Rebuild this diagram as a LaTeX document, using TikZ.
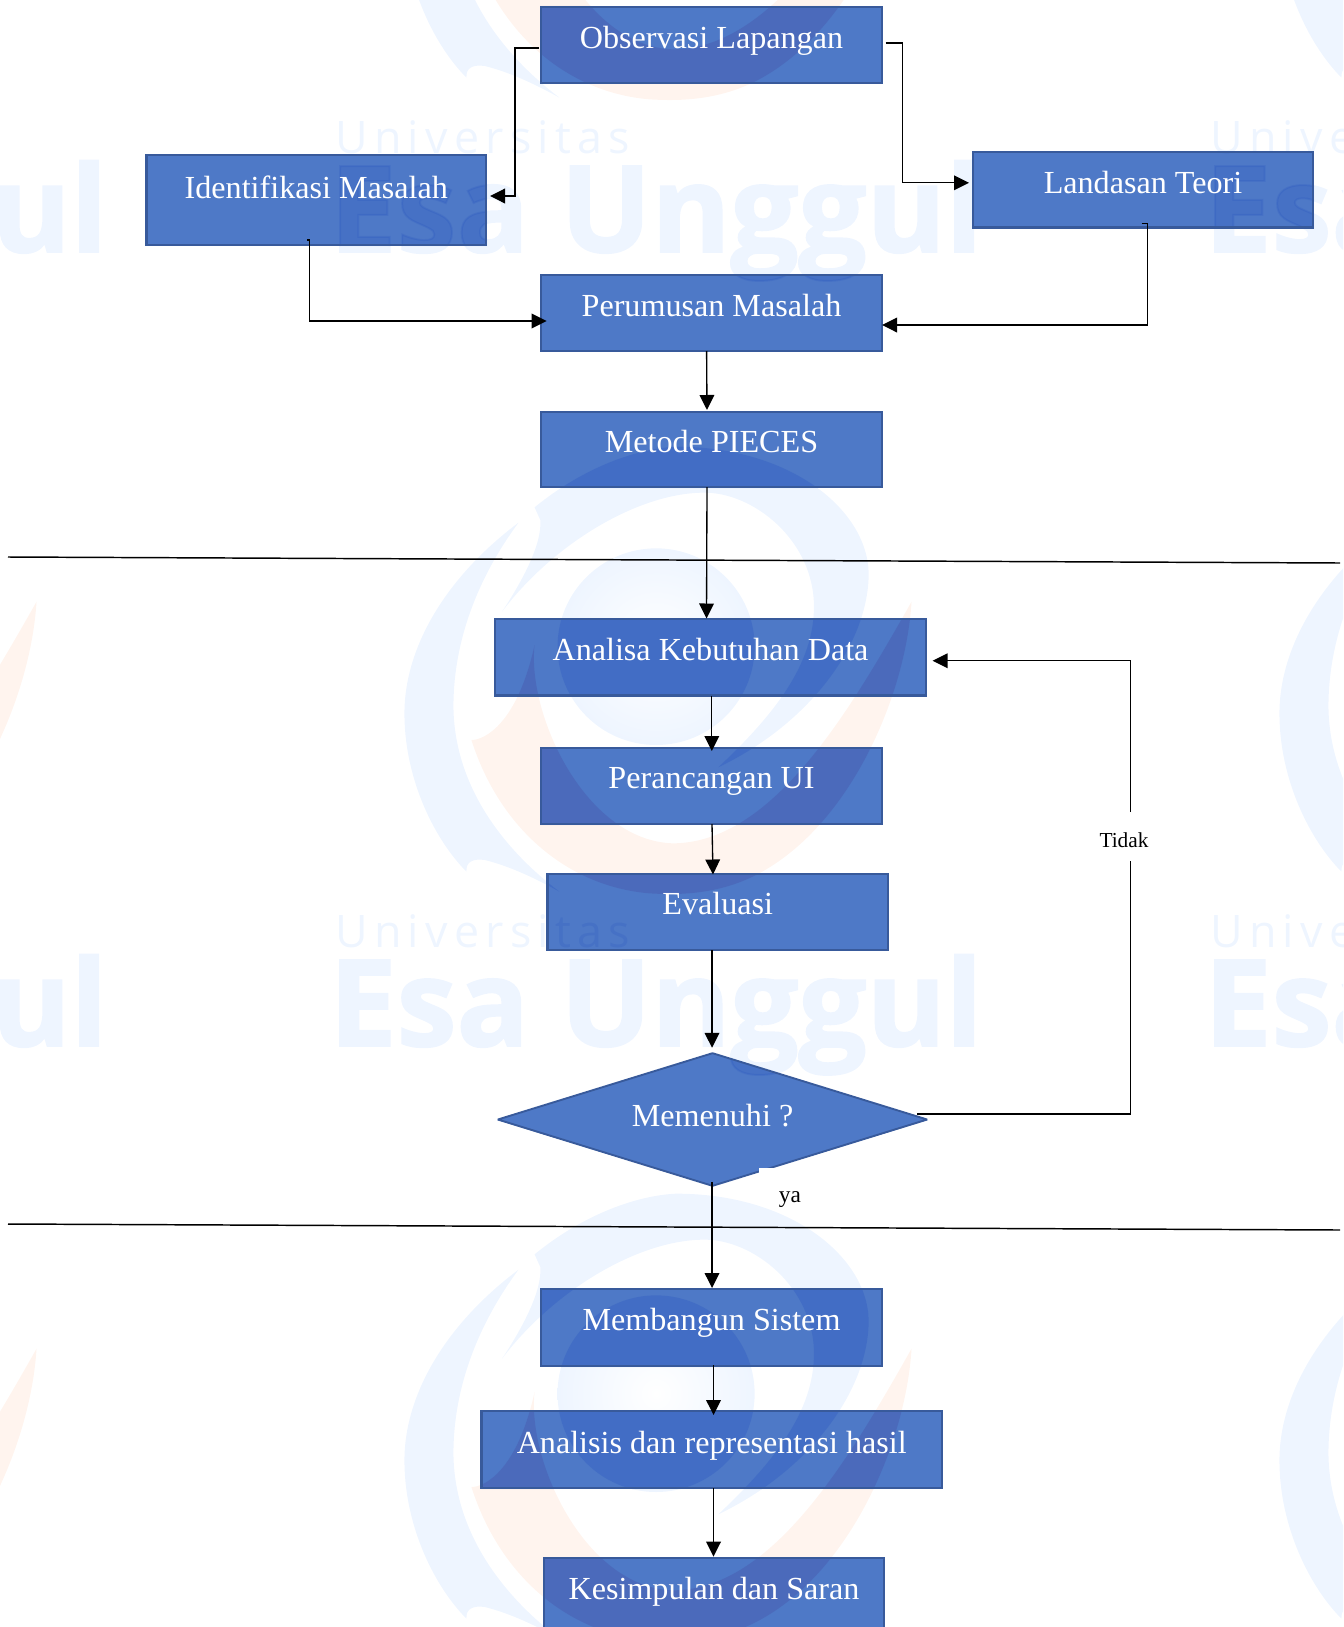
\documentclass[tikz,border=0pt]{standalone}
\usepackage{fontspec}
\setmainfont{Liberation Serif}
\newfontfamily\wmthin[LetterSpace=14]{Open Sans}
\newfontfamily\wmheavy[BoldFeatures={FakeBold=1.6}]{Open Sans}
\usetikzlibrary{arrows.meta,shapes.geometric}
\definecolor{boxfillc}{RGB}{78,121,199}
\definecolor{boxline}{RGB}{56,90,155}
\definecolor{wmblue}{RGB}{238,245,255}
\definecolor{wmorange}{RGB}{255,244,238}
\definecolor{ovblue}{RGB}{0,47,186}
\definecolor{ovorange}{RGB}{60,27,120}
\pgfdeclarelayer{wmbg}
\pgfdeclarelayer{boxfills}
\pgfdeclarelayer{wmtop}
\pgfsetlayers{wmbg,boxfills,wmtop,main}
\tikzset{
  boxnode/.style={rectangle,draw=boxline,line width=1.8pt,inner sep=0pt,outer sep=0pt,text=white,font=\fontsize{24.1pt}{28pt}\selectfont},
  decision/.style={diamond,aspect=3.24,draw=boxline,line width=1.4pt,line join=bevel,inner sep=0pt,outer sep=0pt,text=white,font=\fontsize{24.1pt}{28pt}\selectfont,minimum width=322pt,minimum height=99.5pt},
  conn/.style={draw=black,line width=1pt,-{Triangle[length=11.25pt,width=11pt]}},
  plainconn/.style={draw=black,line width=1pt},
  divider/.style={draw=black,line width=1.1pt},
  labeltext/.style={inner sep=0pt,outer sep=0pt,text=black},
}
\newcommand\bx[7]{%
  \begin{pgfonlayer}{boxfills}\fill[boxfillc] (#2,#3) rectangle (#4,#5);\end{pgfonlayer}
  \pgfmathsetmacro\rz{((#3+#5)/2-#6)*.75}
  \node[boxnode,minimum width={(#4-#2-2)*.75pt},minimum height={(#5-#3-2)*.75pt}] (#1) at ({(#2+#4)/2},{(#3+#5)/2}) {\smash{\raisebox{\rz pt}{#7}}};
}
% one swirl of the watermark, in coordinates of a 2.613 x 3 crop
\newcommand\swirl[4]{%
  \begin{scope}[shift={(370+#1,430+#2)},x=0.28703pt,y=-0.25pt]
    \fill[#3] (1415,515) .. controls (1400,800) and (1250,1200) .. (1000,1340)
      .. controls (900,1395) and (800,1395) .. (730,1390)
      .. controls (520,1370) and (340,1200) .. (265,930)
      .. controls (300,930) and (385,880) .. (430,645)
      .. controls (410,850) and (560,1230) .. (790,1240)
      .. controls (1050,1240) and (1250,850) .. (1415,515) -- cycle;
    \fill[#4] (388,278) .. controls (200,440) and (90,650) .. (90,850)
      .. controls (90,1050) and (170,1230) .. (252,1325)
      .. controls (250,1295) and (270,1285) .. (300,1290)
      .. controls (370,1310) and (440,1350) .. (495,1385)
      .. controls (340,1250) and (220,1060) .. (218,830)
      .. controls (218,620) and (290,430) .. (388,278) -- cycle;
    \fill[#4] (345,545) .. controls (400,450) and (450,340) .. (445,270)
      -- (430,232) .. controls (560,110) and (700,55) .. (800,50)
      .. controls (1100,50) and (1300,240) .. (1303,430)
      .. controls (1303,640) and (1150,880) .. (910,1012)
      .. controls (1060,850) and (1160,700) .. (1160,530)
      .. controls (1160,330) and (1000,185) .. (870,188)
      .. controls (700,190) and (480,340) .. (345,545) -- cycle;
  \end{scope}}
\newcommand\wmcore[3]{%
  \begin{scope}[shift={(#1,#2)}]
    \begin{scope}[shift={(370,430)},x=0.28703pt,y=-0.25pt]
      \path[#3] (747.5,650) ellipse [x radius=257.5,y radius=295];
    \end{scope}
  \end{scope}}
\newcommand\wmwords[4]{%
  \node[anchor=base west,inner sep=0pt,#3] at (#1,#2) {\fontsize{33.6pt}{36pt}\wmthin Universitas};
  \node[anchor=base west,inner sep=0pt,#3] at (#1-6,#2+99) {\fontsize{90.3pt}{96pt}\wmheavy\bfseries Esa Unggul};
}
\begin{document}
\begin{tikzpicture}[x=.75pt,y=-.75pt]
\useasboundingbox (0,0) rectangle (1343,1627);
\begin{pgfonlayer}{wmbg}
  \begin{scope}
    \clip (0,0) rectangle (1343,1627);
    \foreach \dx in {-875,0,875} {
      \foreach \dy in {-794,0,747} {
        \swirl{\dx}{\dy}{wmorange}{wmblue}
        \wmcore{\dx}{\dy}{inner color=white,outer color=wmblue}
      }
      \foreach \dy in {153,947} {
        \wmwords{335+\dx}{\dy}{text=wmblue}{}
      }
    }
  \end{scope}
\end{pgfonlayer}
\begin{pgfonlayer}{wmtop}
  \begin{scope}
    \clip (540,6) rectangle (883,84) (145.6,154) rectangle (487,246)
      (972,151) rectangle (1314,228.6) (540,274) rectangle (883,352)
      (540,411) rectangle (883,488) (494,618) rectangle (927,696.5)
      (540,747) rectangle (883,825) (546.5,873) rectangle (889,951)
      (540,1288) rectangle (883,1367) (480.5,1410) rectangle (943,1489)
      (543,1557) rectangle (885,1627)
      (497,1120) -- (712.5,1053) -- (928,1120) -- (712.5,1186) -- cycle;
    \foreach \dx in {-875,0,875} {
      \foreach \dy in {-794,0,747} {
        \swirl{\dx}{\dy}{ovorange,opacity=.15}{ovblue,opacity=.15}
        \wmcore{\dx}{\dy}{fill=ovblue,opacity=.15}
      }
      \foreach \dy in {153,947} {
        \wmwords{335+\dx}{\dy}{text=ovblue,text opacity=.1}{}
      }
    }
  \end{scope}
\end{pgfonlayer}

\draw[divider] (8,557) coordinate (d1a) -- (1340,563) coordinate (d1b);
\draw[divider] (8,1224) coordinate (d2a) -- (1340,1230) coordinate (d2b);

\bx{obs}{540}{6}{883}{84}{48.5}{Observasi Lapangan}
\bx{ident}{145.6}{154}{487}{246}{198.5}{Identifikasi Masalah}
\bx{land}{972}{151}{1314}{228.6}{193}{Landasan Teori}
\bx{perum}{540}{274}{883}{352}{316.5}{Perumusan Masalah}
\bx{metode}{540}{411}{883}{488}{452.5}{Metode PIECES}
\bx{anal}{494}{618}{927}{696.5}{660}{Analisa Kebutuhan Data}
\bx{ui}{540}{747}{883}{825}{788}{Perancangan UI}
\bx{eval}{546.5}{873}{889}{951}{914}{Evaluasi}
\bx{bangun}{540}{1288}{883}{1367}{1330}{Membangun Sistem}
\bx{hasil}{480.5}{1410}{943}{1489}{1453}{Analisis dan representasi hasil}
\bx{simpul}{543}{1557}{885}{1640}{1599}{Kesimpulan dan Saran}

\begin{pgfonlayer}{boxfills}
  \fill[boxfillc] (497,1120) -- (712.5,1053) -- (928,1120) -- (712.5,1186) -- cycle;
\end{pgfonlayer}
\node[decision] (dec) at (712.5,1119.5) {\smash{\raisebox{-5.6pt}{Memenuhi ?}}};
\fill[white] (759,1168) rectangle (775,1176);

\node[labeltext,font=\fontsize{17.5pt}{20pt}\selectfont,anchor=base] (ya) at (790,1202) {ya};
\node[labeltext,font=\fontsize{16pt}{18pt}\selectfont,minimum height=36.75pt] (tidak) at (1124,836.5) {\smash{\raisebox{-7.9pt}{Tidak}}};

\draw[conn] ([shift={(-2,3)}]obs.west) -- ++(-24,0) |- ([shift={(4,-4)}]ident.east);
\draw[conn] ([shift={(3.5,-2)}]obs.east) -- ++(17,0) |- ([shift={(-4,-7)}]land.west);
\draw[conn] ([shift={(-9,-5)}]ident.south) -- ++(2.5,0) |- ([shift={(5.6,8)}]perum.west);
\draw[conn] ([shift={(-1.5,-4)}]land.south) -- ++(6,0) |- ([shift={(0,12)}]perum.east);
\draw[conn] ([shift={(-4.9,0)}]perum.south) -- ([shift={(-4.5,-2)}]metode.north);
\draw[conn] ([shift={(-4.5,0)}]metode.south) -- ([shift={(-4,-.5)}]anal.north);
\draw[conn] ([shift={(1.3,0)}]anal.south) -- ([shift={(.3,3)}]ui.north);
\draw[conn] ([shift={(.5,0)}]ui.south) -- ([shift={(-4.75,.5)}]eval.north);
\draw[conn] ([shift={(-5.75,0)}]eval.south) -- ([shift={(-.5,-5.4)}]dec.north);
\draw[conn] ([shift={(-.5,-4)}]dec.south) -- ([shift={(.5,-1)}]bangun.north);
\draw[conn] ([shift={(2,-1)}]bangun.south) -- ([shift={(1.75,4)}]hasil.north);
\draw[conn] ([shift={(1.75,0)}]hasil.south) -- ([shift={(-.5,-1.3)}]simpul.north);
\draw[plainconn] ([shift={(-10,-5.5)}]dec.east) -| ([shift={(6.6,0)}]tidak.south);
\draw[conn] ([shift={(6.6,0)}]tidak.north) |- ([shift={(6.6,3.5)}]anal.east);
\end{tikzpicture}
\end{document}
